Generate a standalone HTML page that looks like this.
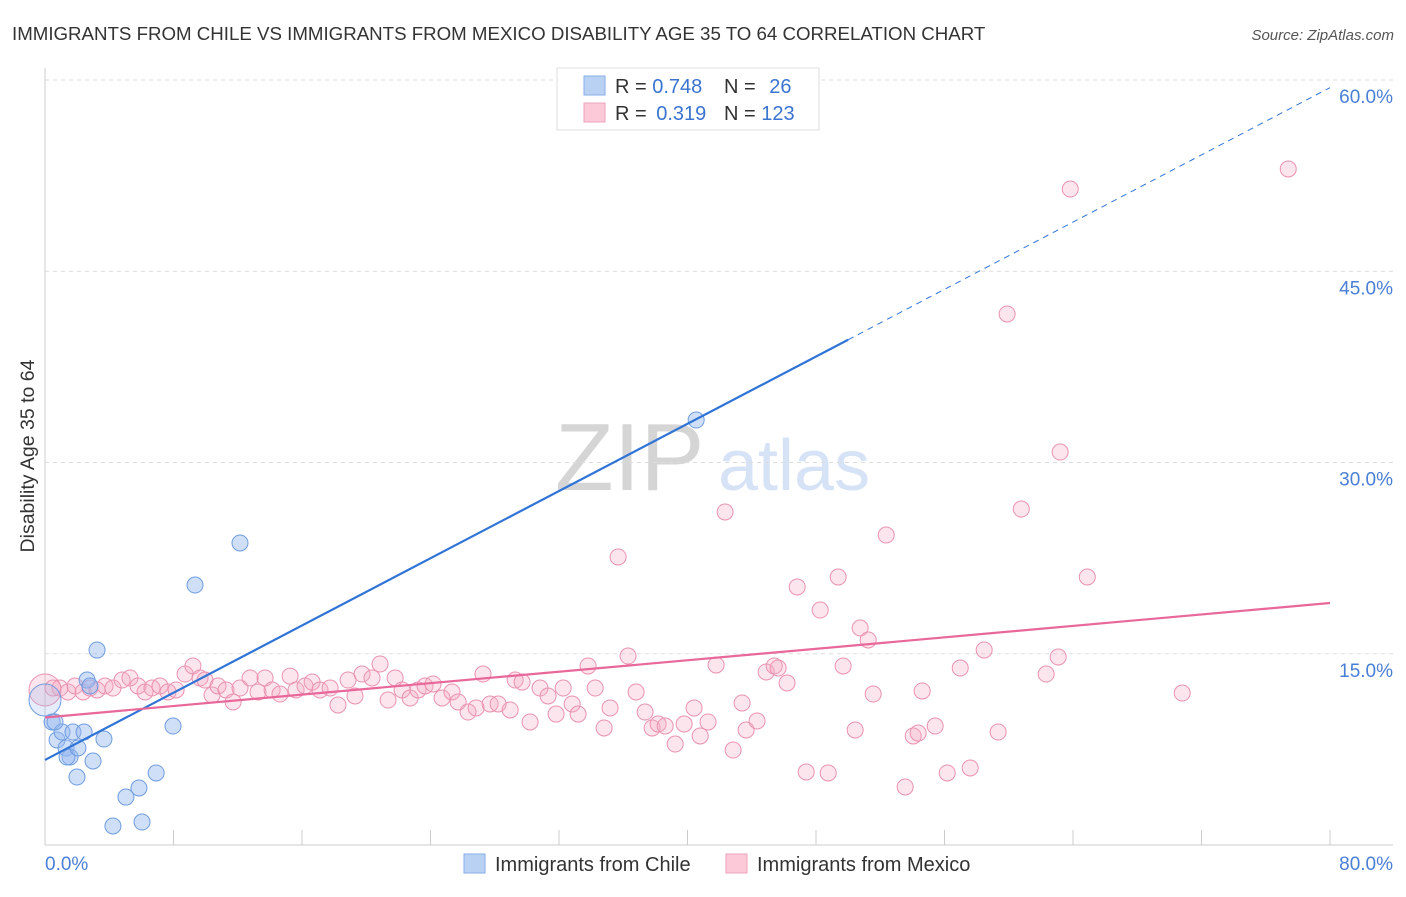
<!DOCTYPE html>
<html><head><meta charset="utf-8">
<style>
body{margin:0;background:#fff;font-family:"Liberation Sans",sans-serif;}
svg text{font-family:"Liberation Sans",sans-serif;}
</style></head>
<body>
<svg id="chart" width="1406" height="892" xmlns="http://www.w3.org/2000/svg">
<text x="12" y="40" font-size="18.7" fill="#333">IMMIGRANTS FROM CHILE VS IMMIGRANTS FROM MEXICO DISABILITY AGE 35 TO 64 CORRELATION CHART</text>
<text x="1394" y="40" font-size="15" fill="#555" font-style="italic" text-anchor="end">Source: ZipAtlas.com</text>
<text x="34" y="456" font-size="19.5" fill="#333" text-anchor="middle" transform="rotate(-90 34 456)">Disability Age 35 to 64</text>
<g opacity="0.22">
<text x="555" y="490" font-size="96" font-family="Liberation Serif" fill="#444">ZIP</text>
<text x="718" y="490" font-size="72" fill="#4a7fd6">atlas</text>
</g>
<g id="grid"></g>
<g id="marks"></g>
<g>
<rect x="557" y="68" width="262" height="62" fill="#fff" stroke="#ddd"/>
<rect x="584" y="76" width="21" height="19" fill="#b9d2f4" stroke="#86aee8"/>
<rect x="584" y="103" width="21" height="19" fill="#fbc9d8" stroke="#eea3bb"/>
<text x="615" y="93" font-size="20" fill="#333">R = <tspan fill="#3a74d0">0.748</tspan></text>
<text x="724" y="93" font-size="20" fill="#333">N = <tspan fill="#3a74d0" dx="8">26</tspan></text>
<text x="615" y="120" font-size="20" fill="#333">R = <tspan fill="#3a74d0" dx="4">0.319</tspan></text>
<text x="724" y="120" font-size="20" fill="#333">N = <tspan fill="#3a74d0">123</tspan></text>
</g>
<g>
<rect x="464" y="854" width="21" height="19" fill="#b9d2f4" stroke="#86aee8"/>
<text x="495" y="871" font-size="20" fill="#333">Immigrants from Chile</text>
<rect x="726" y="854" width="21" height="19" fill="#fbc9d8" stroke="#eea3bb"/>
<text x="757" y="871" font-size="20" fill="#333">Immigrants from Mexico</text>
</g>
</svg>
<script>
const yTicks=[15,30,45,60];
const yTickLabels=["15.0%","30.0%","45.0%","60.0%"];
const xTickLabels=["0.0%","80.0%"];
const chileX=[0.44,0.75,1.06,1.31,1.56,1.37,1.74,2.05,1.99,2.43,2.62,2.8,2.99,3.24,3.67,4.23,5.04,5.85,6.04,6.92,7.97,9.34,12.14,40.54,0,0.62];
const chileY=[9.65,8.24,8.86,7.61,6.9,6.9,8.86,7.61,5.33,8.86,12.94,12.47,6.59,15.29,8.31,1.49,3.76,4.47,1.8,5.65,9.33,20.39,23.69,33.33,11.37,9.65];
const mexX=[0,0.93,1.43,1.87,2.37,2.8,3.24,3.74,4.23,4.8,5.29,5.79,6.23,6.66,7.16,7.66,8.16,8.72,9.21,9.65,9.96,10.4,10.77,11.27,11.71,12.14,12.77,13.26,13.7,14.14,14.63,15.26,15.63,16.19,16.63,17.12,17.75,18.24,18.87,19.3,19.74,20.36,20.86,21.36,21.8,22.23,22.73,23.23,23.66,24.16,24.72,25.34,25.72,26.34,26.84,27.27,27.71,28.21,28.96,29.27,29.7,30.2,30.82,31.32,31.82,32.26,32.82,33.19,33.81,34.25,34.81,35.18,35.68,36.3,36.8,37.36,37.8,38.17,38.61,39.23,39.79,40.41,40.79,41.28,41.78,42.34,42.84,43.4,43.65,44.33,44.9,45.4,45.64,46.2,46.83,47.39,48.26,48.76,49.38,49.69,50.44,50.75,51.25,51.56,52.37,53.55,54.05,54.36,54.61,55.42,56.17,56.98,57.6,58.47,59.34,59.9,60.78,62.33,63.08,63.2,63.83,64.89,70.8,77.4,0.5];
const mexY=[12.16,12.31,12.0,12.47,12.0,12.31,12.16,12.47,12.31,12.94,13.1,12.47,12.0,12.31,12.47,12.0,12.16,13.41,14.04,13.1,12.94,11.76,12.47,12.16,11.22,12.31,13.1,12.0,13.1,12.16,11.84,13.25,12.16,12.47,12.78,12.16,12.31,10.98,12.94,11.69,13.41,13.1,14.2,11.37,13.1,12.16,11.53,12.16,12.47,12.63,11.53,12.0,11.22,10.43,10.75,13.41,11.06,11.06,10.59,12.94,12.78,9.65,12.31,11.69,10.27,12.31,11.06,10.27,14.04,12.31,9.18,10.75,22.59,14.82,12.0,10.43,9.18,9.49,9.33,7.92,9.49,10.75,8.55,9.65,14.12,26.12,7.45,11.14,9.02,9.73,13.57,14.04,13.88,12.71,20.24,5.73,18.43,5.65,21.02,14.04,9.02,17.02,16.08,11.84,24.31,4.55,8.55,8.78,12.08,9.33,5.65,13.88,6.04,15.29,8.86,41.65,26.35,13.41,14.75,30.82,51.45,21.02,11.92,53.02,12.31];
const chileFit=[6.67,59.4];
const mexFit=[10.0,18.98];
const X0=45,X1=1330,Y0=845,PPY=12.75;
const sx=v=>X0+(X1-X0)*v/80;
const sy=v=>Y0-v*PPY;
const NS="http://www.w3.org/2000/svg";
function mk(parent,tag,attrs){const e=document.createElementNS(NS,tag);for(const k in attrs)e.setAttribute(k,attrs[k]);parent.appendChild(e);return e;}
const grid=document.getElementById('grid'),marks=document.getElementById('marks');
yTicks.forEach((t,i)=>{
 const l=mk(grid,'line',{x1:X0,x2:1393,y1:sy(t),y2:sy(t),stroke:'#ddd','stroke-dasharray':'4,4'});
 
 
 const tx=mk(grid,'text',{x:1393,y:sy(t)+23,'font-size':19,fill:'#4a7fd6','text-anchor':'end'});
 tx.textContent=yTickLabels[i];
 
 
});
const ax=mk(grid,'line',{x1:X0,x2:1393,y1:Y0,y2:Y0,stroke:'#ccc'});


const ay=mk(grid,'line',{x1:X0,x2:X0,y1:68,y2:Y0,stroke:'#ccc'});


for(let i=0;i<=10;i++){
 const t=mk(grid,'line',{x1:sx(i*8),x2:sx(i*8),y1:Y0,y2:Y0-15,stroke:'#ccc'});
 
 
}
[[0,'start',45],[80,'end',1393]].forEach((a,i)=>{
 const t=mk(grid,'text',{x:a[2],y:870,'font-size':19,fill:'#4a7fd6','text-anchor':a[1]});
 t.textContent=xTickLabels[i];
 
 
});
mexX.forEach((x,i)=>{
 const big=i===0;
 const c=mk(marks,'circle',{cx:sx(x),cy:sy(mexY[i]),r:big?16:8,fill:'rgba(246,170,196,0.3)',stroke:'#ea92b0','stroke-width':1});
 
 
});
chileX.forEach((x,i)=>{
 const big=i===24;
 const c=mk(marks,'circle',{cx:sx(x),cy:sy(chileY[i]),r:big?16:8,fill:big?'rgba(150,185,240,0.25)':'rgba(150,185,240,0.45)',stroke:'#6f9de0','stroke-width':1});
 
 
});
const fy=f=>x=>f[0]+(f[1]-f[0])*x/80;
const cf=fy(chileFit),mf=fy(mexFit),xe=50;
const l1=mk(marks,'line',{x1:sx(0),y1:sy(cf(0)),x2:sx(xe),y2:sy(cf(xe)),stroke:'#2f74d6','stroke-width':2.2});


const l2=mk(marks,'line',{x1:sx(xe),y1:sy(cf(xe)),x2:sx(80),y2:sy(cf(80)),stroke:'#2f74d6','stroke-width':1,'stroke-dasharray':'6,5'});


const l3=mk(marks,'line',{x1:sx(0),y1:sy(mf(0)),x2:sx(80),y2:sy(mf(80)),stroke:'#e8689a','stroke-width':2.2});


</script>
</body></html>
